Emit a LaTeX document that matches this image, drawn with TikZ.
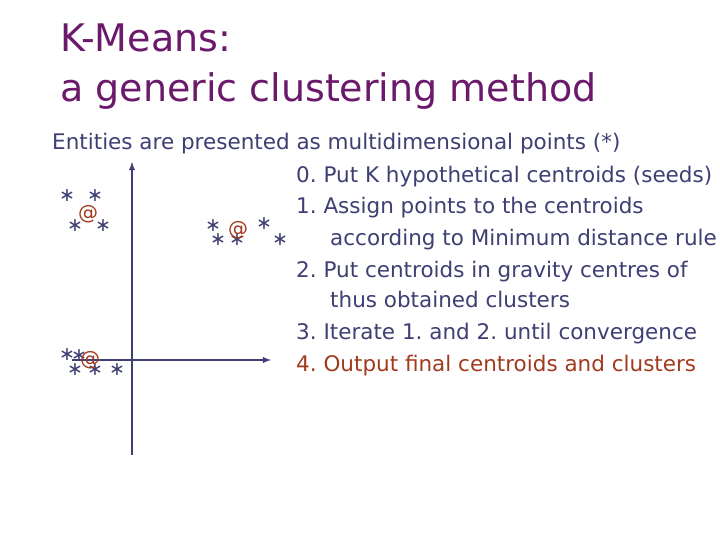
\documentclass[tikz,border=0pt]{standalone}
\usepackage{fontspec}
\setmainfont{DejaVu Sans}
\frenchspacing
\begin{document}
\begin{tikzpicture}[x=1pt,y=-1pt,
  body/.style={anchor=base west,inner sep=0pt,text=bluetxt,font=\fontsize{21.5}{24}\selectfont},
  red/.style={body,text=redtxt},
  pt/.style={inner sep=0pt,text=bluetxt,font=\fontsize{19}{19}\selectfont},
  cen/.style={inner sep=0pt,text=redtxt,font=\fontsize{20}{20}\selectfont},
  axis/.style={draw=bluetxt,line width=1.8pt,-latex}]
\definecolor{bluetxt}{HTML}{3F3F73}
\definecolor{redtxt}{HTML}{A23A1E}
\definecolor{purp}{HTML}{6B1A6B}
\useasboundingbox[fill=white] (0,0) rectangle (720,540);
\node[anchor=base west,inner sep=0pt,text=purp,font=\fontsize{38}{40}\selectfont] (t1) at (60,52) {K-Means:};
\node[anchor=base west,inner sep=0pt,text=purp,font=\fontsize{38}{40}\selectfont] (t2) at (60,102) {a generic clustering method};
\node[body] (e) at (52,150) {Entities are presented as multidimensional points (*)};
\node[body] (s0) at (296,183) {0. Put K hypothetical centroids (seeds)};
\node[body] (s1) at (296,214) {1. Assign points to the centroids};
\node[body] (s1b) at (330,245) {according to Minimum distance rule};
\node[body] (s2) at (296,277) {2. Put centroids in gravity centres of};
\node[body] (s2b) at (330,307) {thus obtained clusters};
\node[body] (s3) at (296,339) {3. Iterate 1. and 2. until convergence};
\node[red] (s4) at (296,371) {4. Output final centroids and clusters};
\coordinate (yb) at (132,455);
\coordinate (yt) at (132,162);
\coordinate (xl) at (72,360);
\coordinate (xr) at (271,360);
\draw[axis] (yb) -- (yt);
\draw[axis] (xl) -- (xr);
\foreach \n/\x/\y in {a1/67/196,a2/95/196,a3/75/226,a4/103/226,
  b1/213/226,b2/264/224,b3/218/240,b4/237/240,b5/280/240,
  c1/67/355,c2/79/356,c3/75/370,c4/95/370,c5/117/370}
  \node[pt] (\n) at (\x,\y) {∗};
\node[cen] (ca) at (88,214) {@};
\node[cen] (cb) at (238,230) {@};
\node[cen] (cc) at (90,360) {@};
\end{tikzpicture}
\end{document}
